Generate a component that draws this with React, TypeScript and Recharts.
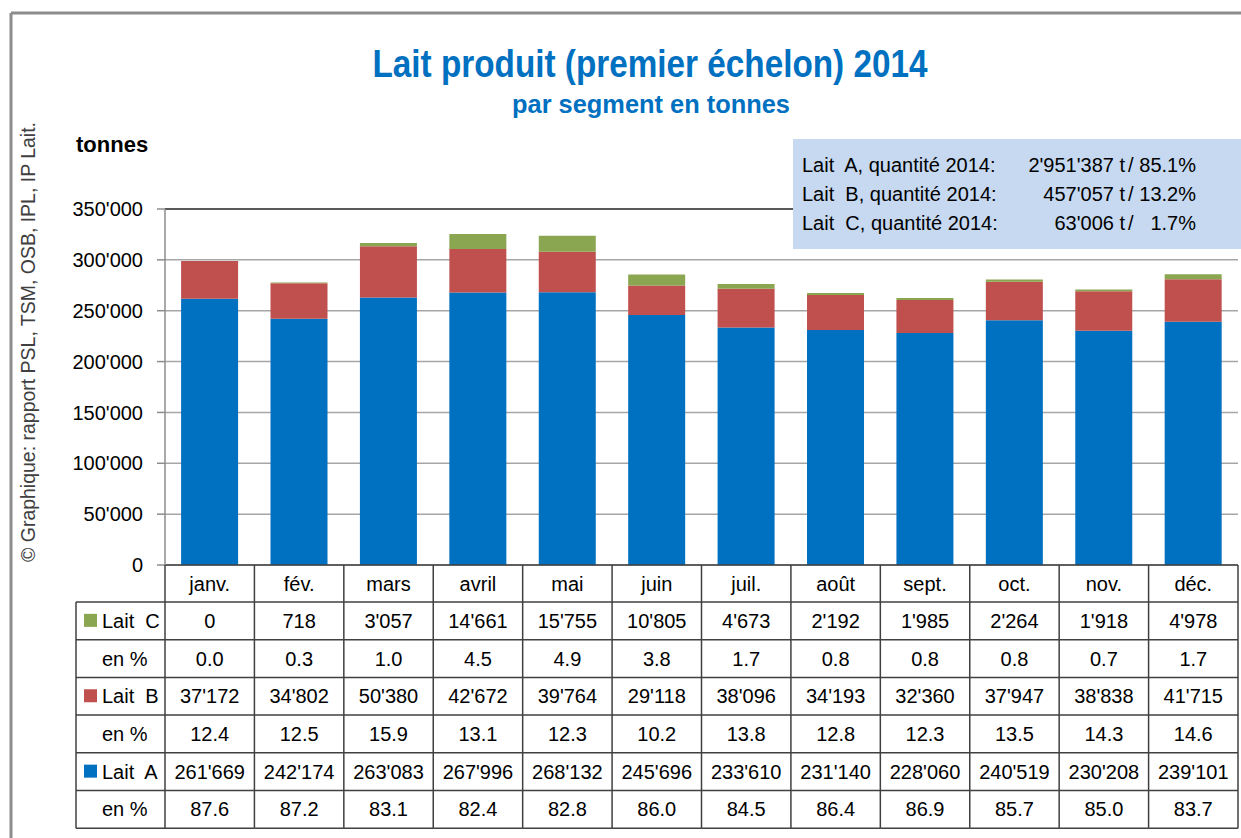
import React from "react";
import { BarChart, Bar, XAxis, YAxis, CartesianGrid, ReferenceLine } from "recharts";

const months = ["janv.", "fév.", "mars", "avril", "mai", "juin", "juil.", "août", "sept.", "oct.", "nov.", "déc."];
const laitA = [261669, 242174, 263083, 267996, 268132, 245696, 233610, 231140, 228060, 240519, 230208, 239101];
const laitB = [37172, 34802, 50380, 42672, 39764, 29118, 38096, 34193, 32360, 37947, 38838, 41715];
const laitC = [0, 718, 3057, 14661, 15755, 10805, 4673, 2192, 1985, 2264, 1918, 4978];
const pctA = ["87.6", "87.2", "83.1", "82.4", "82.8", "86.0", "84.5", "86.4", "86.9", "85.7", "85.0", "83.7"];
const pctB = ["12.4", "12.5", "15.9", "13.1", "12.3", "10.2", "13.8", "12.8", "12.3", "13.5", "14.3", "14.6"];
const pctC = ["0.0", "0.3", "1.0", "4.5", "4.9", "3.8", "1.7", "0.8", "0.8", "0.8", "0.7", "1.7"];
const yTicks = [0, 50000, 100000, 150000, 200000, 250000, 300000, 350000];

const totalLabels = ["Lait  A, quantité 2014:", "Lait  B, quantité 2014:", "Lait  C, quantité 2014:"];
const totalQty = ["2'951'387", "457'057", "63'006"];
const totalPct = ["85.1%", "13.2%", "1.7%"];

const BLUE = "#0070C0";
const RED = "#C0504D";
const GREEN = "#8BA650";
const LINE = "#404040";
const FONT = "'Liberation Sans', Arial, sans-serif";

// swiss thousands separator
const fmt = (v: number) => String(v).replace(/\B(?=(\d{3})+(?!\d))/g, "'");

const data = months.map((m, i) => ({ month: m, a: laitA[i], b: laitB[i], c: laitC[i] }));

const tableRows = [
  { label: "Lait  C", color: GREEN, values: laitC.map(fmt) },
  { label: "en %", values: pctC },
  { label: "Lait  B", color: RED, values: laitB.map(fmt) },
  { label: "en %", values: pctB },
  { label: "Lait  A", color: BLUE, values: laitA.map(fmt) },
  { label: "en %", values: pctA },
];

const HEADER_H = 37;
const ROW_H = 37.7;
const LABEL_W = 89;

const TableTick = (props: any) => {
  const { x, y, payload, width } = props;
  const idx = months.indexOf(payload.value);
  const half = payload && payload.offset > 0 ? payload.offset : width / months.length / 2;
  const left = x - half;
  const right = x + half;
  const bottom = y + HEADER_H + ROW_H * tableRows.length;
  const txt = { fontSize: 20, fill: "#000", fontFamily: FONT };
  return (
    <g>
      <text x={x} y={y + HEADER_H / 2 + 7} textAnchor="middle" {...txt}>
        {payload.value}
      </text>
      {tableRows.map((r, i) => {
        const top = y + HEADER_H + ROW_H * i;
        return (
          <g key={i}>
            <line x1={left} x2={right} y1={top} y2={top} stroke={LINE} strokeWidth={1.5} />
            <text x={x} y={top + ROW_H / 2 + 7} textAnchor="middle" {...txt}>
              {r.values[idx]}
            </text>
            {idx === 0 && (
              <g>
                <line x1={left - LABEL_W} x2={left} y1={top} y2={top} stroke={LINE} strokeWidth={1.5} />
                {r.color && (
                  <rect x={left - LABEL_W + 8} y={top + ROW_H / 2 - 7} width={13} height={13} fill={r.color} />
                )}
                <text x={left - LABEL_W + 26} y={top + ROW_H / 2 + 7} style={{ whiteSpace: "pre" }} {...txt}>
                  {r.label}
                </text>
              </g>
            )}
          </g>
        );
      })}
      <line x1={left} x2={right} y1={bottom} y2={bottom} stroke={LINE} strokeWidth={1.5} />
      <line x1={right} x2={right} y1={y} y2={bottom} stroke={LINE} strokeWidth={1.5} />
      {idx === 0 && (
        <g>
          <line x1={left} x2={left} y1={y} y2={bottom} stroke={LINE} strokeWidth={1.5} />
          <line x1={left - LABEL_W} x2={left} y1={bottom} y2={bottom} stroke={LINE} strokeWidth={1.5} />
          <line x1={left - LABEL_W} x2={left - LABEL_W} y1={y + HEADER_H} y2={bottom} stroke={LINE} strokeWidth={1.5} />
        </g>
      )}
    </g>
  );
};

export default function App() {
  return (
    <div style={{ position: "absolute", left: 0, top: 0, width: 1241, height: 838, background: "#fff", fontFamily: FONT }}>
      <BarChart
        width={1241}
        height={838}
        data={data}
        margin={{ top: 209, right: 3, bottom: 0, left: 0 }}
        barCategoryGap="18%"
      >
        <CartesianGrid vertical={false} stroke="#A6A6A6" strokeWidth={1.5} />
        <XAxis
          dataKey="month"
          interval={0}
          height={273}
          tickSize={0}
          tickMargin={0}
          tickLine={false}
          axisLine={{ stroke: LINE, strokeWidth: 1.5 }}
          tick={<TableTick />}
        />
        <YAxis
          domain={[0, 350000]}
          ticks={yTicks}
          width={165}
          tickSize={8}
          tickMargin={14}
          tickFormatter={fmt}
          tick={{ fontSize: 20, fill: "#000", fontFamily: FONT }}
          axisLine={{ stroke: "#8C8C8C", strokeWidth: 1.5 }}
          tickLine={{ stroke: "#8C8C8C", strokeWidth: 1.5 }}
        />
        <ReferenceLine y={350000} stroke="#595959" strokeWidth={2} />
        <Bar dataKey="a" stackId="s" fill={BLUE} isAnimationActive={false} />
        <Bar dataKey="b" stackId="s" fill={RED} isAnimationActive={false} />
        <Bar dataKey="c" stackId="s" fill={GREEN} isAnimationActive={false} />
      </BarChart>

      <svg width={1241} height={838} style={{ position: "absolute", left: 0, top: 0, pointerEvents: "none" }}>
        <line x1={11} x2={1241} y1={13} y2={13} stroke="#8C8C8C" strokeWidth={3} />
        <line x1={11} x2={11} y1={13} y2={838} stroke="#8C8C8C" strokeWidth={3} />
        <text x={650} y={77} textAnchor="middle" fontSize={38} fontWeight="bold" fill={BLUE} textLength={555} lengthAdjust="spacingAndGlyphs">
          Lait produit (premier échelon) 2014
        </text>
        <text x={651} y={113} textAnchor="middle" fontSize={25} fontWeight="bold" fill={BLUE} textLength={278} lengthAdjust="spacingAndGlyphs">
          par segment en tonnes
        </text>
        <text x={76} y={152} fontSize={22} fontWeight="bold" fill="#000">
          tonnes
        </text>
        <text
          transform="translate(35 342) rotate(-90)"
          textAnchor="middle"
          fontSize={20}
          fill="#404040"
          textLength={440}
          lengthAdjust="spacingAndGlyphs"
        >
          © Graphique: rapport PSL, TSM, OSB, IPL, IP Lait.
        </text>
        <rect x={793} y={139} width={448} height={110} fill="#C6D9F1" />
        {totalLabels.map((l, i) => (
          <g key={i} fontSize={20} fill="#000">
            <text x={802} y={172 + i * 29} style={{ whiteSpace: "pre" }}>
              {l}
            </text>
            <text x={1125} y={172 + i * 29} textAnchor="end">
              {totalQty[i] + " t"}
            </text>
            <text x={1128} y={172 + i * 29}>/</text>
            <text x={1196} y={172 + i * 29} textAnchor="end">
              {totalPct[i]}
            </text>
          </g>
        ))}
      </svg>
    </div>
  );
}
